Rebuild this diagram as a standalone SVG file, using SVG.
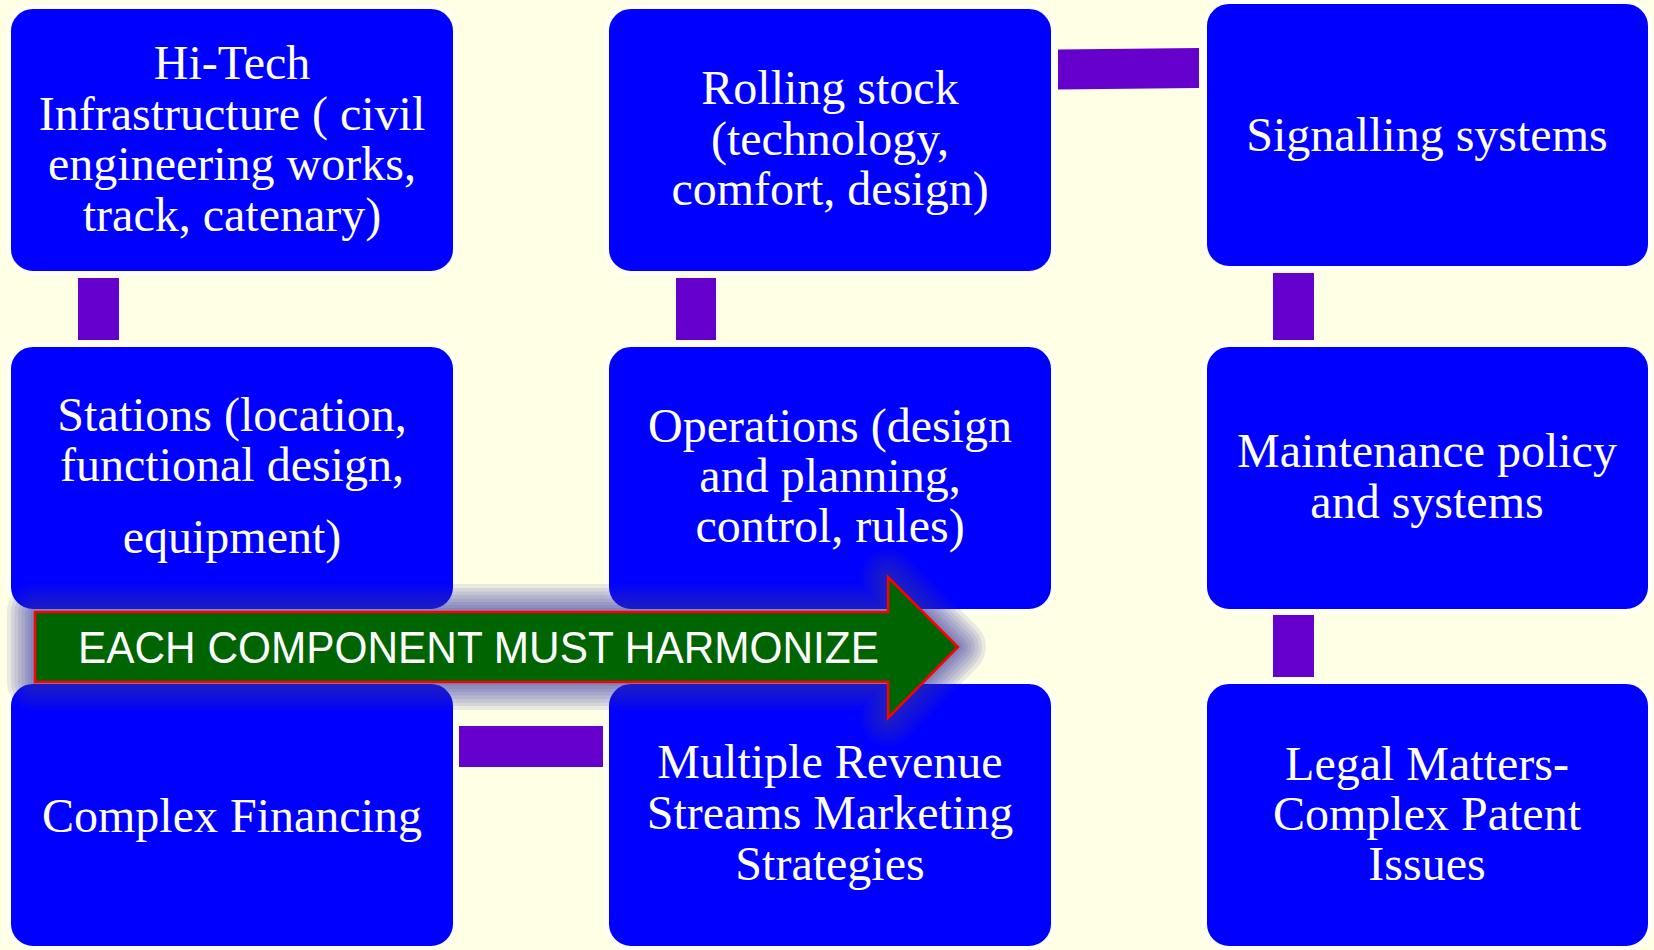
<svg xmlns="http://www.w3.org/2000/svg" xmlns:xlink="http://www.w3.org/1999/xlink" width="1654" height="950" viewBox="0 0 1654 950">
  <style>
    .box { fill: #0000ff; stroke: #ffffff; stroke-width: 4; }
    .lbl { font-family: "Liberation Serif", "Times New Roman", serif; font-size: 48px; fill: #ffffff; text-anchor: middle; }
    .bar { fill: #6600cc; }
    .banner { font-family: "Liberation Sans", Arial, sans-serif; font-size: 44px; fill: #ffffff; }
    .halo use { fill: #3434a4; stroke: #3434a4; stroke-linejoin: round; opacity: 0.1; }
  </style>
  <defs>
    <polygon id="arrow-shape" points="35,612 888,612 888,577 958,647 888,718 888,682 35,682"/>
  </defs>

  <rect x="0" y="0" width="1654" height="950" fill="#ffffe6"/>

  <!-- links between components -->
  <g id="connectors">
    <rect class="bar" x="78" y="278" width="41" height="62"/>
    <rect class="bar" x="676" y="278" width="40" height="62"/>
    <polygon class="bar" points="1058,49.5 1199,48 1199,88 1058,89.5"/>
    <rect class="bar" x="1273" y="273" width="41" height="67"/>
    <rect class="bar" x="1273" y="615" width="41" height="62"/>
    <rect class="bar" x="459" y="726" width="144" height="41"/>
  </g>

  <g id="hitech">
    <rect class="box" x="9" y="7" width="446" height="266" rx="24"/>
    <text class="lbl" x="232" y="79">Hi-Tech</text>
    <text class="lbl" x="232" y="129.5">Infrastructure ( civil</text>
    <text class="lbl" x="232" y="180">engineering works,</text>
    <text class="lbl" x="232" y="230.5">track, catenary)</text>
  </g>

  <g id="rolling-stock">
    <rect class="box" x="607" y="7" width="446" height="266" rx="24"/>
    <text class="lbl" x="830" y="104">Rolling stock</text>
    <text class="lbl" x="830" y="155">(technology,</text>
    <text class="lbl" x="830" y="205">comfort, design)</text>
  </g>

  <g id="signalling">
    <rect class="box" x="1205" y="2" width="445" height="266" rx="24"/>
    <text class="lbl" x="1427" y="151">Signalling systems</text>
  </g>

  <g id="stations">
    <rect class="box" x="9" y="345" width="446" height="266" rx="24"/>
    <text class="lbl" x="232" y="431">Stations (location,</text>
    <text class="lbl" x="232" y="481">functional design,</text>
    <text class="lbl" x="232" y="553">equipment)</text>
  </g>

  <g id="operations">
    <rect class="box" x="607" y="345" width="446" height="266" rx="24"/>
    <text class="lbl" x="830" y="442">Operations (design</text>
    <text class="lbl" x="830" y="492">and planning,</text>
    <text class="lbl" x="830" y="542">control, rules)</text>
  </g>

  <g id="maintenance">
    <rect class="box" x="1205" y="345" width="445" height="266" rx="24"/>
    <text class="lbl" x="1427" y="467">Maintenance policy</text>
    <text class="lbl" x="1427" y="518">and systems</text>
  </g>

  <g id="financing">
    <rect class="box" x="9" y="682" width="446" height="266" rx="24"/>
    <text class="lbl" x="232" y="832">Complex Financing</text>
  </g>

  <g id="revenue">
    <rect class="box" x="607" y="682" width="446" height="266" rx="24"/>
    <text class="lbl" x="830" y="778">Multiple Revenue</text>
    <text class="lbl" x="830" y="829">Streams Marketing</text>
    <text class="lbl" x="830" y="880">Strategies</text>
  </g>

  <g id="legal">
    <rect class="box" x="1205" y="682" width="445" height="266" rx="24"/>
    <text class="lbl" x="1427" y="780">Legal Matters-</text>
    <text class="lbl" x="1427" y="830">Complex Patent</text>
    <text class="lbl" x="1427" y="880">Issues</text>
  </g>

  <!-- banner arrow across the middle -->
  <g id="harmonize-arrow">
    <!-- soft bluish halo built from stacked translucent outlines -->
    <g class="halo">
      <use xlink:href="#arrow-shape" href="#arrow-shape" stroke-width="56"/>
      <use xlink:href="#arrow-shape" href="#arrow-shape" stroke-width="48"/>
      <use xlink:href="#arrow-shape" href="#arrow-shape" stroke-width="41"/>
      <use xlink:href="#arrow-shape" href="#arrow-shape" stroke-width="34"/>
      <use xlink:href="#arrow-shape" href="#arrow-shape" stroke-width="27"/>
      <use xlink:href="#arrow-shape" href="#arrow-shape" stroke-width="20"/>
      <use xlink:href="#arrow-shape" href="#arrow-shape" stroke-width="14"/>
      <use xlink:href="#arrow-shape" href="#arrow-shape" stroke-width="8"/>
    </g>
    <use xlink:href="#arrow-shape" href="#arrow-shape" fill="#006400" stroke="#ff0000" stroke-width="2.5"/>
    <text class="banner" x="78" y="663" textLength="801" lengthAdjust="spacingAndGlyphs">EACH COMPONENT MUST HARMONIZE</text>
  </g>
</svg>
